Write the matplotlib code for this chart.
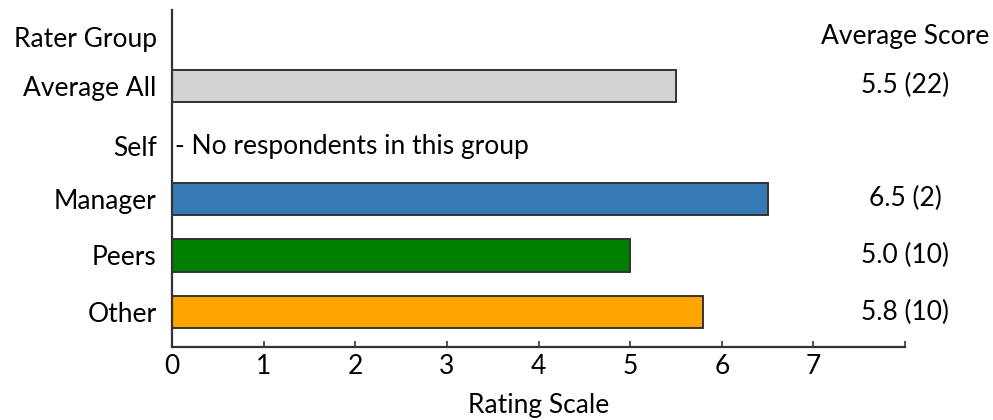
import numpy as np
import matplotlib
matplotlib.use("Agg")
import matplotlib.pyplot as plt

plt.rcParams['font.family'] = ['Lato', 'DejaVu Sans']

groups = ["Average All", "Self", "Manager", "Peers", "Other"]
scores = [5.5, None, 6.5, 5.0, 5.8]
counts = [22, 0, 2, 10, 10]
colors = ["#D3D3D3", None, "#357AB5", "#008000", "#FFA500"]
x_ticks = [0, 1, 2, 3, 4, 5, 6, 7, 8]
x_labels = ["0", "1", "2", "3", "4", "5", "6", "7", ""]
no_data_text = "- No respondents in this group"

FS = 19
edge = "#333333"

fig = plt.figure(figsize=(9.93, 4.2), dpi=100)
ax = fig.add_axes([0.1732, 0.1738, 0.7382, 0.8025])

ypos = np.arange(1, len(groups) + 1, dtype=float)
header_y = 0.13
label_y = ypos.copy()
for i, (y, s, c) in enumerate(zip(ypos, scores, colors)):
    if s is None:
        # empty group: note sits a little lower than the bar rows
        label_y[i] = y + 0.07
        ax.text(0.03, label_y[i], no_data_text, va="center", ha="left", fontsize=FS)
        continue
    ax.barh(y, s, height=0.57, color=c, edgecolor=edge, linewidth=1.4)

# right-hand column with the average and respondent count
ax.text(8.0, header_y, "Average Score", ha="center", va="center", fontsize=FS, clip_on=False)
for y, s, n in zip(ypos, scores, counts):
    if s is None:
        continue
    ax.text(8.0, y, f"{s:.1f} ({n})", ha="center", va="center", fontsize=FS, clip_on=False)

ax.set_xlim(0, 8)
ax.set_ylim(5.62, -0.345)
ax.set_yticks([header_y] + list(label_y))
ax.set_yticklabels(["Rater Group"] + groups, fontsize=FS)
ax.tick_params(axis="y", length=0, pad=11)
ax.set_xticks(x_ticks)
ax.set_xticklabels(x_labels, fontsize=FS)
ax.tick_params(axis="x", direction="in", length=4, width=1.2, color=edge, pad=5)
ax.set_xlabel("Rating Scale", fontsize=FS, labelpad=10)

for side in ["top", "right"]:
    ax.spines[side].set_visible(False)
for side in ["left", "bottom"]:
    ax.spines[side].set_color(edge)
    ax.spines[side].set_linewidth(1.6)

fig.savefig("out.png", dpi=100)
